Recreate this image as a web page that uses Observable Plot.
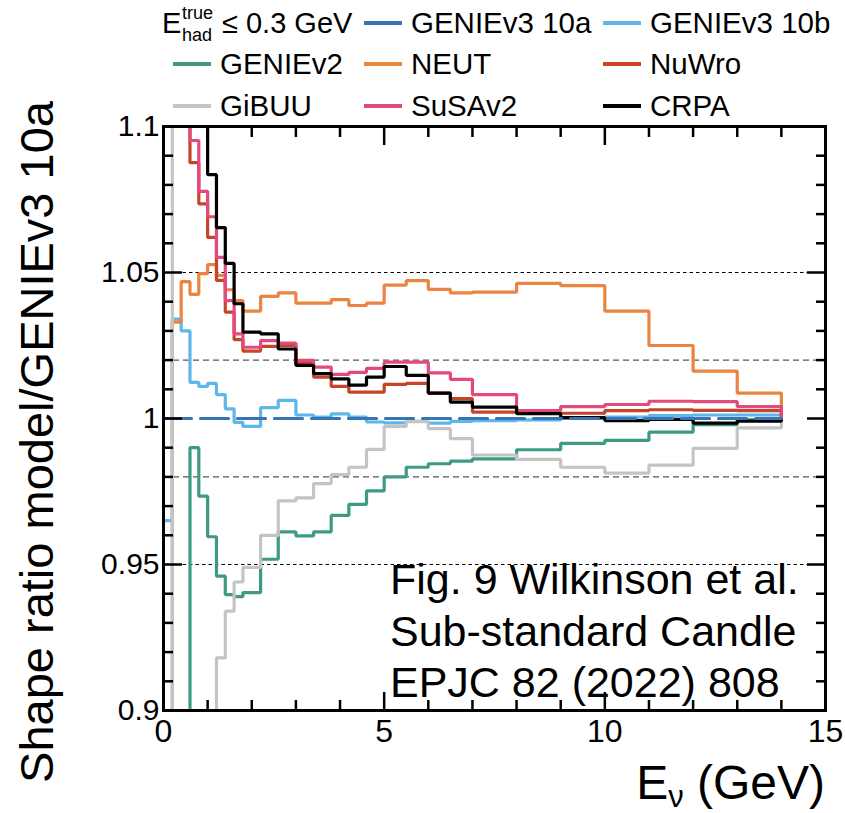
<!DOCTYPE html>
<html><head><meta charset="utf-8">
<script src="https://cdn.jsdelivr.net/npm/d3@7"></script>
<script src="https://cdn.jsdelivr.net/npm/@observablehq/plot@0.6"></script>
<style>
body{margin:0;background:#fff;}
#wrap{position:relative;width:845px;height:813px;font-family:"Liberation Sans",Arial,sans-serif;color:#000;}
#legend{position:absolute;left:0;top:0;width:845px;height:120px;z-index:2;}
.lt{position:absolute;white-space:nowrap;line-height:1;transform:translateY(-50%);}
.sw{position:absolute;height:4px;transform:translateY(-50%);}
</style></head><body>
<div id="wrap"><div id="legend"></div><div id="chart"></div></div>
<script>
// Bin edges (GeV)
const binEdges = [0,0.2,0.4,0.6,0.8,1.0,1.2,1.4,1.6,1.8,2.2,2.6,3.0,3.4,3.8,4.2,4.6,5.0,5.5,6.0,6.5,7,8,9,10,11,12,13,14];
// Shape ratio per bin (values beyond 0.9-1.1 are off-scale)
const genieV3_10a = [1,1,1,1,1,1,1,1,1,1,1,1,1,1,1,1,1,1,1,1,1,1,1,1,1,1,1,1];
const genieV3_10b = [0.965,1.034,1.030,1.0124,1.011,1.012,1.0082,1.0033,0.9987,0.9973,1.0037,1.0062,1.0012,1.0005,1.0016,1.0005,0.9988,0.9985,0.999,0.9984,0.999,0.9993,0.9995,1.0,1.0005,1.001,1.0012,1.0012];
const genieV2 = [0.85,0.85,0.85,0.990,0.9734,0.9595,0.946,0.9397,0.939,0.9404,0.9518,0.9612,0.9598,0.9612,0.9668,0.9706,0.9752,0.980,0.9833,0.9845,0.9854,0.9862,0.9893,0.9915,0.9925,0.9953,0.9979,0.9995];
const neut = [0.85,1.033,1.0469,1.0425,1.0496,1.0527,1.049,1.0441,1.0404,1.0368,1.0418,1.043,1.0395,1.0395,1.0407,1.0387,1.0395,1.0457,1.0472,1.0442,1.043,1.0433,1.0463,1.0455,1.0368,1.025,1.0162,1.0087];
const nuwro = [1.15,1.15,1.15,1.0876,1.0735,1.062,1.0473,1.0364,1.027,1.0231,1.0247,1.025,1.019,1.0142,1.011,1.009,1.009,1.0117,1.012,1.0087,1.0068,1.0022,1.002,1.0018,1.0027,1.003,1.0028,1.0027];
const gibuu = [1.15,0.85,0.85,0.85,0.85,0.85,0.918,0.934,0.944,0.949,0.960,0.9718,0.9728,0.9777,0.9808,0.9833,0.9894,0.9973,0.9989,0.9965,0.9931,0.9875,0.986,0.9833,0.9813,0.984,0.9898,0.9968];
const susav2 = [1.15,1.15,1.15,1.0952,1.0778,1.0691,1.0552,1.0404,1.029,1.0244,1.0267,1.0258,1.0199,1.0176,1.0151,1.0158,1.0172,1.0193,1.0193,1.0156,1.0134,1.0082,1.0027,1.0041,1.0048,1.0059,1.0058,1.0041];
const crpa = [1.15,1.15,1.15,1.15,1.15,1.0835,1.0654,1.0531,1.0393,1.0296,1.029,1.0238,1.0182,1.0154,1.0136,1.0114,1.0142,1.0178,1.0148,1.0087,1.0056,1.0039,1.0017,1.0003,0.9993,0.9997,0.9984,0.9991];

const modelNames = ["GENIEv3 10a","GENIEv3 10b","GENIEv2","NEUT","NuWro","GiBUU","SuSAv2","CRPA"];
const modelColors = ["#3674b5","#5db7e8","#3f9a85","#ea8440","#c6452a","#c4c4c4","#e2497d","#000000"];
const modelValues = [genieV3_10a,genieV3_10b,genieV2,neut,nuwro,gibuu,susav2,crpa];

const xMajorTicks = [0,5,10,15];
const xMinorTicks = [1,2,3,4,6,7,8,9,11,12,13,14];
const yMajorTicks = [0.9,0.95,1,1.05,1.1];
const yMinorTicks = [0.91,0.92,0.93,0.94,0.96,0.97,0.98,0.99,1.01,1.02,1.03,1.04,1.06,1.07,1.08,1.09];
const fineGrid = [0.95,1.05];
const coarseGrid = [0.98,1.02];

const legendTitle = {main:"E", sup:"true", sub:"had", rest:"\u2264 0.3 GeV"};
const xTitle = {main:"E", sub:"\u03bd", rest:" (GeV)"};
const yTitle = "Shape ratio model/GENIEv3 10a";
const noteLines = ["Fig. 9 Wilkinson et al.","Sub-standard Candle","EPJC 82 (2022) 808"];

function series(vals){
  const pts = vals.map((v,i)=>({x:binEdges[i], y:v}));
  pts.push({x:binEdges[binEdges.length-1], y:1});
  return pts;
}

const drawOrder = [1,2,3,4,5,6,7];
const lineMarks = drawOrder.map(i => Plot.line(series(modelValues[i]), {
  x:"x", y:"y", curve:"step-after", stroke: modelColors[i], strokeWidth:3.2,
  strokeLinejoin:"miter", strokeLinecap:"butt", clip:true
}));
const refMark = Plot.line(series(modelValues[0]), {
  x:"x", y:"y", curve:"step-after", stroke: modelColors[0], strokeWidth:3.2,
  strokeDasharray:"28,9", clip:true
});

const FONT = '"Liberation Sans", Arial, sans-serif';
const plot = Plot.plot({
  width:845, height:813,
  marginLeft:163, marginRight:20, marginTop:126, marginBottom:103,
  x:{domain:[0,15], axis:null},
  y:{domain:[0.9,1.1], axis:null},
  style:{fontFamily:FONT, background:"white", overflow:"visible", color:"#000"},
  marks:[
    Plot.ruleY(fineGrid, {stroke:"#000", strokeWidth:1, strokeDasharray:"3.5,3"}),
    Plot.ruleY(coarseGrid, {stroke:"#555", strokeWidth:1.3, strokeDasharray:"6,4"}),
    ...lineMarks,
    refMark,
    Plot.axisX(xMinorTicks, {anchor:"bottom", tickSize:-10, strokeWidth:2.5, tickFormat:()=>"", label:null}),
    Plot.axisX(xMajorTicks, {anchor:"bottom", tickSize:-18, strokeWidth:2.5, tickFormat:()=>"", label:null}),
    Plot.axisX(xMinorTicks, {anchor:"top", tickSize:-10, strokeWidth:2.5, tickFormat:()=>"", label:null}),
    Plot.axisX(xMajorTicks, {anchor:"top", tickSize:-18, strokeWidth:2.5, tickFormat:()=>"", label:null}),
    Plot.axisY(yMinorTicks, {anchor:"left", tickSize:-10, strokeWidth:2.5, tickFormat:()=>"", label:null}),
    Plot.axisY(yMajorTicks, {anchor:"left", tickSize:-19, strokeWidth:2.5, tickFormat:()=>"", label:null}),
    Plot.axisY(yMinorTicks, {anchor:"right", tickSize:-10, strokeWidth:2.5, tickFormat:()=>"", label:null}),
    Plot.axisY(yMajorTicks, {anchor:"right", tickSize:-19, strokeWidth:2.5, tickFormat:()=>"", label:null}),
    Plot.axisX(xMajorTicks, {anchor:"bottom", tickSize:0, tickPadding:9, fontSize:32, tickFormat:d=>String(d), label:null}),
    Plot.axisY(yMajorTicks, {anchor:"left", tickSize:0, tickPadding:4, fontSize:30, tickFormat:d=>String(d), label:null}),
    Plot.frame({stroke:"#000", strokeWidth:3})
  ]
});
document.getElementById("chart").appendChild(plot);

// Titles and note
const svgSel = d3.select(plot);
const xs = plot.scale("x"), ys = plot.scale("y");
const pxRight = xs.apply(15), pxLeft = xs.apply(0), pxTop = ys.apply(1.1), pxBottom = ys.apply(0.9);
const xt = svgSel.append("text").attr("x", pxRight).attr("y", pxBottom + 89).attr("text-anchor","end")
  .attr("font-size", 48).attr("font-family", FONT).attr("fill","#000");
xt.append("tspan").text(xTitle.main);
xt.append("tspan").attr("font-size", 31).attr("dy", 8).text(xTitle.sub);
xt.append("tspan").attr("dy", -8).text(xTitle.rest);

svgSel.append("text").attr("transform", `translate(${pxLeft - 110},${(pxTop+pxBottom)/2 + 24}) rotate(-90)`)
  .attr("text-anchor","middle").attr("font-size", 47).attr("font-family", FONT).attr("fill","#000").text(yTitle);

const note = svgSel.append("text").attr("font-size", 43).attr("font-family", FONT).attr("fill","#000").attr("text-anchor","start");
noteLines.forEach((t,i) => note.append("tspan").attr("x", pxLeft + 227).attr("y", pxBottom - 116 + i*51.5).text(t));

// Legend
const leg = d3.select("#legend");
const rowY = [23, 64, 106];
const colSw = [173, 364, 603];
const colTx = [220, 411, 650];
const legendSlots = [[0,1],[0,2],[1,0],[1,1],[1,2],[2,0],[2,1],[2,2]]; // [row,col] per model
modelNames.forEach((name,i) => {
  const [r,c] = legendSlots[i];
  leg.append("div").attr("class","sw").style("left", colSw[c]+"px").style("top", rowY[r]+"px")
     .style("width","38px").style("background", modelColors[i]);
  leg.append("div").attr("class","lt").style("left", colTx[c]+"px").style("top", rowY[r]+"px")
     .style("font-size","29.5px").text(name);
});
leg.append("div").attr("class","lt").style("left","162px").style("top", rowY[0]+"px").style("font-size","29px").text(legendTitle.main);
leg.append("div").attr("class","lt").style("left","182px").style("top", (rowY[0]-10)+"px").style("font-size","18px").text(legendTitle.sup);
leg.append("div").attr("class","lt").style("left","182px").style("top", (rowY[0]+12)+"px").style("font-size","18px").text(legendTitle.sub);
leg.append("div").attr("class","lt").style("left","222px").style("top", rowY[0]+"px").style("font-size","29px").text(legendTitle.rest);
</script>
</body></html>
